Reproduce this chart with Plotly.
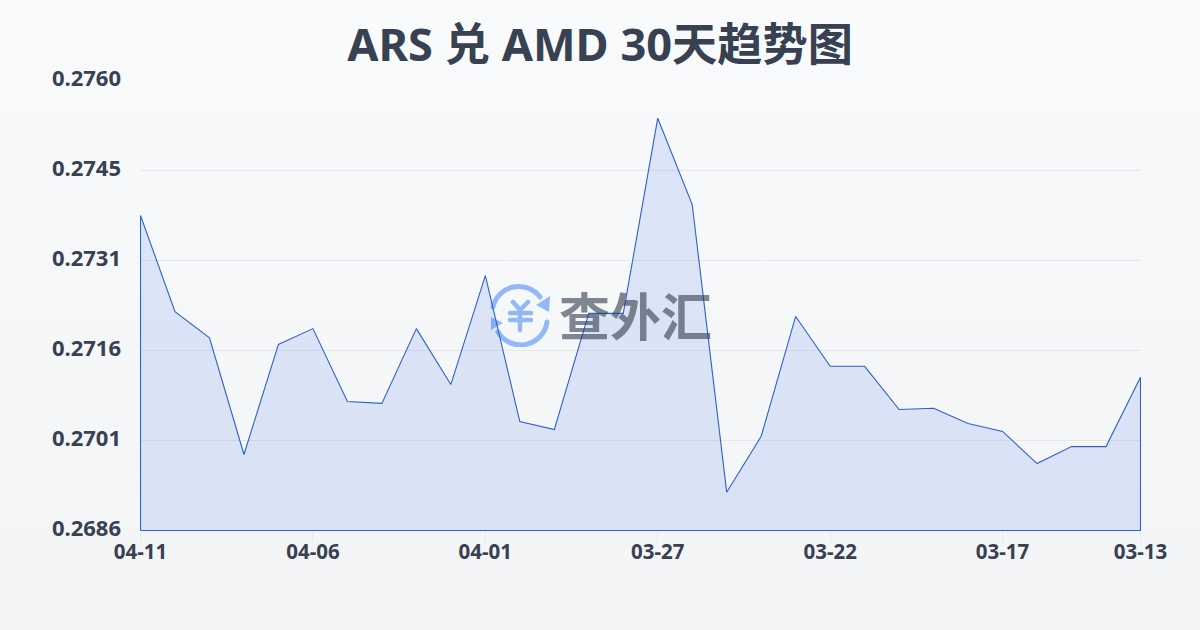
import base64
import plotly.graph_objects as go

dates = ["04-11","04-10","04-09","04-08","04-07","04-06","04-05","04-04","04-03","04-02",
         "04-01","03-31","03-30","03-29","03-28","03-27","03-26","03-25","03-24","03-23",
         "03-22","03-21","03-20","03-19","03-18","03-17","03-16","03-15","03-14","03-13"]
rates = [0.27378,0.27220,0.27177,0.26985,0.27166,0.27192,0.27072,0.27069,0.27192,0.27100,
         0.27279,0.27039,0.27026,0.27217,0.27217,0.27538,0.27396,0.26923,0.27015,0.27212,
         0.27130,0.27130,0.27059,0.27061,0.27036,0.27023,0.26970,0.26998,0.26998,0.27112]
y_ticks = [0.2686,0.27008,0.27156,0.27304,0.27452,0.2760]
y_labels = ["0.2686","0.2701","0.2716","0.2731","0.2745","0.2760"]
x_labels = dates[::5] + [dates[-1]]
x_positions = list(range(0,30,5)) + [29]
base = y_ticks[0]

bg = ('<svg xmlns="http://www.w3.org/2000/svg" width="1200" height="630">'
      '<defs><linearGradient id="g" x1="0" y1="0" x2="0" y2="1">'
      '<stop offset="0" stop-color="#f8fafc"/><stop offset="1" stop-color="#f3f4f6"/>'
      '</linearGradient></defs><rect width="1200" height="630" fill="url(#g)"/></svg>')
icon = ('<svg xmlns="http://www.w3.org/2000/svg" width="64" height="64" viewBox="0 0 64 64">'
        '<g fill="none" stroke="#93b8f8" stroke-linecap="round">'
        '<g stroke-width="5"><path d="M5 24 A26.5 26.5 0 0 1 52 14"/><path d="M59 39 A26.5 26.5 0 0 1 10 49"/></g>'
        '<path stroke-width="4.5" d="M25 19 L32 27 L40 19 M32 27 V47 M22 30 H43 M22 37 H43"/></g>'
        '<path d="M62 13 L61 29 L48 22 Z" fill="#93b8f8"/><path d="M3 34 L3 47 L15 40 Z" fill="#93b8f8"/></svg>')
def uri(s):
    return "data:image/svg+xml;base64," + base64.b64encode(s.encode()).decode()

idx = list(range(len(dates)))
half_x = (idx[-1] - idx[0]) / 1000 / 2
half_y = (y_ticks[-1] - y_ticks[0]) / 450 / 2
fig = go.Figure(go.Scatter(
    x=[idx[0]] + idx + [idx[-1], idx[0]],
    y=[base] + rates + [base, base],
    mode="lines", fill="toself", fillcolor="rgba(37,99,235,0.13)",
    line=dict(color="#2c62c8", width=1.1), hoverinfo="skip", cliponaxis=False))
TXT = "#374151"
SANS = "'Noto Sans','Noto Sans CJK SC',sans-serif"
PW, PH = 1001, 451
fig.update_layout(
    width=1200, height=630, margin=dict(l=140, r=59, t=80, b=99),
    paper_bgcolor="rgba(0,0,0,0)", plot_bgcolor="rgba(0,0,0,0)", showlegend=False,
    title=dict(text="<b>ARS 兑 AMD 30天趋势图</b>", x=0.5, xanchor="center", y=0.929, yanchor="middle",
               font=dict(family=SANS, size=45.2, color=TXT)),
    xaxis=dict(range=[idx[0]-half_x, idx[-1]+half_x], tickmode="array", tickvals=x_positions,
               ticktext=[f"<b>{t}</b>" for t in x_labels],
               showgrid=False, zeroline=False, showline=False, ticks="outside", ticklen=10, tickcolor="#e5e7eb",
               ticklabelstandoff=-8, tickfont=dict(family=SANS, size=20.5, color=TXT)),
    yaxis=dict(range=[y_ticks[0]-half_y, y_ticks[-1]+half_y], tickmode="array", tickvals=y_ticks,
               ticktext=[f"<b>{t}</b>" for t in y_labels],
               showgrid=True, gridcolor="#e5e7eb", gridwidth=1, zeroline=False, showline=False, ticks="",
               ticklabelstandoff=18, ticklabelshift=-2, tickfont=dict(family=SANS, size=22, color=TXT)),
    images=[dict(source=uri(bg), xref="paper", yref="paper", x=-140/PW, y=1+80/PH, sizex=1200/PW, sizey=630/PH,
                 xanchor="left", yanchor="top", sizing="stretch", layer="below"),
            dict(source=uri(icon), xref="paper", yref="paper", x=(488-140)/PW, y=(531-283)/PH, sizex=64/PW, sizey=64/PH,
                 xanchor="left", yanchor="top", sizing="contain", layer="below")],
    annotations=[dict(text="<b>查外汇</b>", xref="paper", yref="paper", x=0.4955, y=0.482, xanchor="center", yanchor="middle",
                      showarrow=False, font=dict(family="'Noto Sans CJK SC',sans-serif", size=51, color="rgba(55,65,81,0.62)"))],
)
fig.write_html("out.html", config={"displayModeBar": False},
               post_script="document.body.style.margin='0';document.body.style.background='#f5f7fa';window.dispatchEvent(new Event('resize'));")
